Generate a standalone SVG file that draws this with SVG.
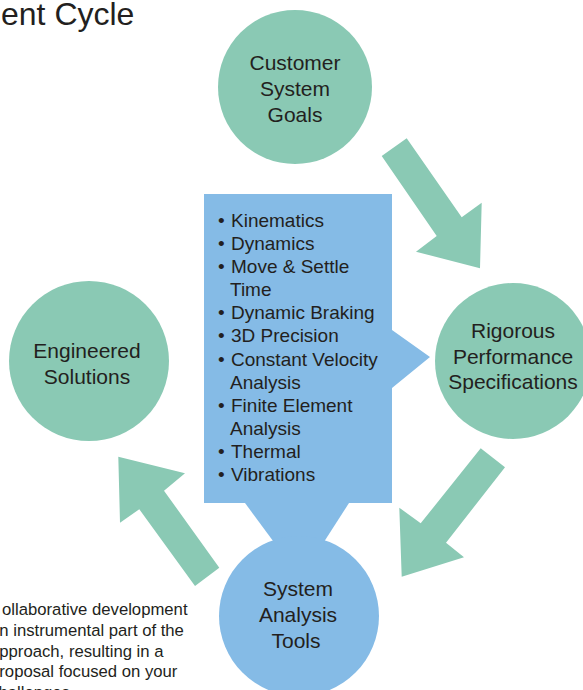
<svg xmlns="http://www.w3.org/2000/svg" width="583" height="690" viewBox="0 0 583 690">
<style>
.g{fill:#8AC9B4}
.b{fill:#85BBE6}
text{font-family:"Liberation Sans",Arial,sans-serif;fill:#231F20}
.n{font-size:21px;text-anchor:middle}
.l{font-size:19px}
.p{font-size:16.7px}
</style>
<rect width="583" height="690" fill="#fff"/>
<text x="1" y="25" style="font-size:32px">ent Cycle</text>
<g id="intro-text">
<text class="p" x="2" y="615">ollaborative development</text>
<text class="p" x="-0.7" y="636">n instrumental part of the</text>
<text class="p" x="-0.7" y="657">pproach, resulting in a</text>
<text class="p" x="-0.7" y="677">roposal focused on your</text>
<text class="p" x="-1.6" y="698">hallenges</text>
</g>
<g id="connectors">
<polygon class="g" points="381.7,156 406.7,138.3 461.7,217.3 481.7,202.7 480,268.3 416,251.7 436.7,236"/>
<polygon class="g" points="480.7,448.3 505,467.3 446,542.7 464,557.3 401.7,576.7 399.3,507.7 420.7,523.3"/>
<polygon class="g" points="195,586 219.3,567.7 164,490.7 185,473.3 118.3,456.7 120,522.7 139.3,509.3"/>
</g>
<g id="customer-goals">
<circle class="g" cx="295" cy="87" r="77"/>
<text class="n" x="295" y="70">Customer</text>
<text class="n" x="295" y="96">System</text>
<text class="n" x="295" y="122">Goals</text>
</g>
<g id="performance-specs">
<circle class="g" cx="513" cy="361" r="78"/>
<text class="n" x="513" y="338">Rigorous</text>
<text class="n" x="513" y="364">Performance</text>
<text class="n" x="513" y="389">Specifications</text>
</g>
<g id="engineered-solutions">
<circle class="g" cx="89" cy="361" r="80"/>
<text class="n" x="87" y="358">Engineered</text>
<text class="n" x="87" y="384">Solutions</text>
</g>
<g id="analysis-tools">
<polygon class="b" points="245,503 349,503 322,545 276,545"/>
<circle class="b" cx="299" cy="616" r="80"/>
<text class="n" x="298" y="596">System</text>
<text class="n" x="298" y="622">Analysis</text>
<text class="n" x="296" y="648">Tools</text>
</g>
<g id="analysis-list">
<polygon class="b" points="204,194 392,194 392,330 430,357 392,388 392,503 204,503"/>
<g class="l">
<text x="218" y="226.7">•</text><text x="231" y="226.7">Kinematics</text>
<text x="218" y="249.8">•</text><text x="231" y="249.8">Dynamics</text>
<text x="218" y="273">•</text><text x="231" y="273">Move &amp; Settle</text>
<text x="230" y="296.1">Time</text>
<text x="218" y="319.3">•</text><text x="231" y="319.3">Dynamic Braking</text>
<text x="218" y="342.4">•</text><text x="231" y="342.4">3D Precision</text>
<text x="218" y="365.6">•</text><text x="231" y="365.6">Constant Velocity</text>
<text x="230" y="388.7">Analysis</text>
<text x="218" y="411.9">•</text><text x="231" y="411.9">Finite Element</text>
<text x="230" y="435">Analysis</text>
<text x="218" y="458.2">•</text><text x="231" y="458.2">Thermal</text>
<text x="218" y="481.3">•</text><text x="231" y="481.3">Vibrations</text>
</g>
</g>
</svg>
